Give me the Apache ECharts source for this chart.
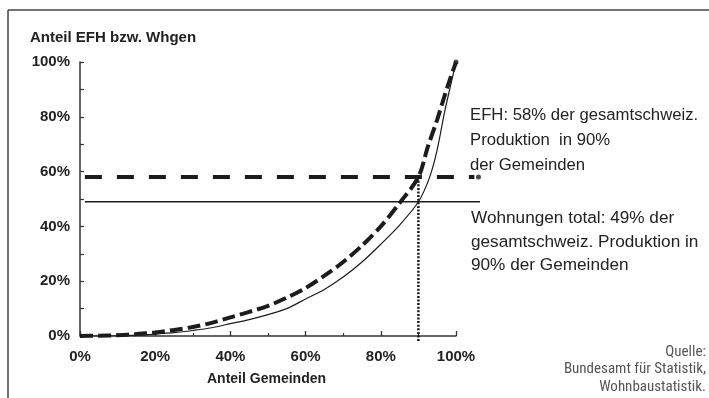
<!DOCTYPE html>
<html>
<head>
<meta charset="utf-8">
<script src="https://cdn.jsdelivr.net/npm/echarts@6/dist/echarts.min.js"></script>
<style>
  html, body { margin: 0; padding: 0; background: #fff; }
  #chart { width: 709px; height: 398px; }
</style>
</head>
<body>
<div id="chart"></div>
<script>
// Anteil Gemeinden (x, %)
const gemeindenEFH = [0, 5, 10, 15, 20, 25, 30, 35, 40, 45, 50, 55, 60, 65, 70, 75, 80, 85, 90, 92.5, 95, 97.5, 100];
// Anteil EFH (y, %) - gestrichelte Kurve
const anteilEFH = [0, 0.1, 0.3, 0.7, 1.3, 2.2, 3.3, 4.8, 6.8, 8.8, 11, 14, 17.5, 22, 27, 33, 40, 48.5, 58, 69, 79, 90, 100];

const gemeindenWhg = [0, 5, 10, 15, 20, 25, 30, 35, 40, 45, 50, 55, 60, 65, 70, 75, 80, 85, 90, 93, 95, 97, 99, 100];
// Anteil Wohnungen total (y, %) - duenne Kurve
const anteilWhg = [0, 0, 0.1, 0.3, 0.7, 1.2, 2, 3, 4.5, 6, 7.8, 10, 13.5, 17, 21.5, 27, 33.5, 40.5, 49, 58, 68, 82, 94, 100];

// Referenzlinien
const efhLevel = 58;
const whgLevel = 49;
const refStart = 1.3;
const refEnd = 106.4;
const markGemeinden = 90;

const xTicks = [0, 20, 40, 60, 80, 100];
const yTicks = [0, 20, 40, 60, 80, 100];

const quelle = ['Quelle:', 'Bundesamt für Statistik,', 'Wohnbaustatistik.'];

const ink = '#1c1c1c';
const chart = echarts.init(document.getElementById('chart'));

// zweites (verstecktes) Gitter, damit die Referenzlinien ueber 100% hinaus laufen
const hiddenAxis = { show: false, axisLine: { show: false }, axisTick: { show: false }, axisLabel: { show: false }, splitLine: { show: false } };

let option = {
  animation: false,
  backgroundColor: '#fff',
  grid: [
    { left: 80, right: 253, top: 62, bottom: 62 },
    { left: 80, right: 229, top: 62, bottom: 62 }
  ],
  xAxis: [{
    type: 'value',
    gridIndex: 0,
    min: 0,
    max: 100,
    interval: 20,
    axisLine: { lineStyle: { color: '#333', width: 1.5 } },
    axisTick: { inside: true, length: 5, lineStyle: { color: '#333', width: 1.3 } },
    minorTick: { show: true, splitNumber: 2, length: 3, lineStyle: { color: '#333', width: 1.2 } },
    splitLine: { show: false },
    axisLabel: {
      margin: 13,
      color: '#222',
      fontFamily: 'Liberation Sans',
      fontWeight: 'bold',
      fontSize: 15,
      formatter: v => xTicks.includes(v) ? v + '%' : ''
    }
  }, Object.assign({ type: 'value', gridIndex: 1, min: 0, max: refEnd }, hiddenAxis)],
  yAxis: [{
    type: 'value',
    gridIndex: 0,
    min: 0,
    max: 100,
    interval: 10,
    axisLine: { show: true, lineStyle: { color: '#333', width: 1.5 } },
    axisTick: { show: true, inside: true, length: 4, lineStyle: { color: '#333', width: 1.2 } },
    splitLine: { show: false },
    axisLabel: {
      margin: 10,
      color: '#222',
      fontFamily: 'Liberation Sans',
      fontWeight: 'bold',
      fontSize: 15,
      formatter: v => yTicks.includes(v) ? v + '%' : ''
    }
  }, Object.assign({ type: 'value', gridIndex: 1, min: 0, max: 100 }, hiddenAxis)],
  graphic: [
    // Rahmen
    { type: 'line', shape: { x1: 8, y1: 10, x2: 709, y2: 10 }, style: { stroke: '#444', lineWidth: 1.5 } },
    { type: 'line', shape: { x1: 8, y1: 10, x2: 8, y2: 398 }, style: { stroke: '#444', lineWidth: 1.5 } },
    {
      type: 'text', left: 30, top: 30,
      style: { text: 'Anteil EFH bzw. Whgen', fill: '#222', font: 'bold 15px "Liberation Sans"' }
    },
    {
      type: 'text', left: 207, top: 372,
      style: { text: 'Anteil Gemeinden', fill: '#222', font: 'bold 14px "Liberation Sans"' }
    },
    {
      type: 'text', left: 470, top: 103,
      style: {
        text: 'EFH: 58% der gesamtschweiz.\nProduktion  in 90%\nder Gemeinden',
        fill: '#222', font: '16.7px "Liberation Sans"', lineHeight: 25
      }
    },
    {
      type: 'text', left: 471, top: 207,
      style: {
        text: 'Wohnungen total: 49% der\ngesamtschweiz. Produktion in\n90% der Gemeinden',
        fill: '#222', font: '17.2px "Liberation Sans"', lineHeight: 23.5
      }
    }
  ].concat(quelle.map((t, i) => ({
    type: 'text', x: 706, y: 352 + i * 17.5,
    style: {
      text: t, align: 'right', verticalAlign: 'middle',
      fill: '#555', font: '15px "Roboto Condensed", "DejaVu Sans Condensed", Roboto, sans-serif'
    }
  }))),
  series: [
    {
      name: 'EFH',
      type: 'line',
      smooth: 0.3,
      showSymbol: false,
      data: gemeindenEFH.map((x, i) => [x, anteilEFH[i]]),
      lineStyle: { color: ink, width: 4, type: [13, 5] },
      z: 3
    },
    {
      name: 'Wohnungen total',
      type: 'line',
      smooth: 0.3,
      showSymbol: false,
      data: gemeindenWhg.map((x, i) => [x, anteilWhg[i]]),
      lineStyle: { color: ink, width: 1.2 },
      z: 2
    },
    {
      name: 'EFH 58%',
      type: 'line',
      xAxisIndex: 1,
      yAxisIndex: 1,
      showSymbol: false,
      data: [[refStart, efhLevel], [refEnd - 1.5, efhLevel]],
      lineStyle: { color: ink, width: 4, type: [17, 15] }
    },
    {
      name: 'Whg 49%',
      type: 'line',
      xAxisIndex: 1,
      yAxisIndex: 1,
      showSymbol: false,
      data: [[refStart, whgLevel], [refEnd, whgLevel]],
      lineStyle: { color: ink, width: 1.5 }
    },
    {
      name: '90%',
      type: 'line',
      showSymbol: false,
      clip: false,
      data: [[markGemeinden, efhLevel], [markGemeinden, -1.8]],
      lineStyle: { color: ink, width: 2.5, type: [2, 1.6] }
    },
    {
      name: 'Endpunkt Kurve',
      type: 'scatter',
      clip: false,
      symbolSize: 5,
      itemStyle: { color: ink },
      data: [[100, 100]],
      z: 4
    },
    {
      name: 'Endpunkt 58%',
      type: 'scatter',
      xAxisIndex: 1,
      yAxisIndex: 1,
      clip: false,
      symbolSize: 5,
      itemStyle: { color: ink },
      data: [[refEnd - 0.4, efhLevel]],
      z: 4
    }
  ]
};
chart.setOption(option);
</script>
</body>
</html>
